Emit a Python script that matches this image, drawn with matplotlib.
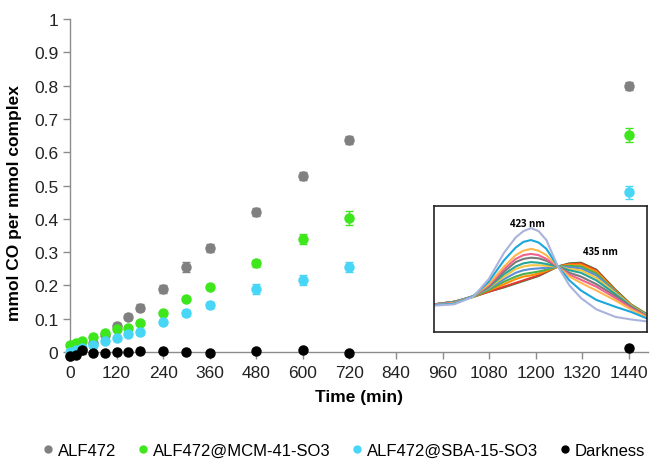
import matplotlib
matplotlib.use('Agg')
import matplotlib.pyplot as plt
from matplotlib.lines import Line2D
import numpy as np

plt.rcParams['font.family'] = ['Liberation Sans', 'DejaVu Sans']

# time points (min)
time = [0, 15, 30, 60, 90, 120, 150, 180, 240, 300, 360, 480, 600, 720, 1440]

# mmol CO per mmol complex
alf472 = [-0.012, -0.005, 0.005, 0.028, 0.05, 0.078, 0.106, 0.133, 0.19, 0.254, 0.312, 0.421, 0.528, 0.636, 0.80]
alf472_err = [0.004, 0.004, 0.004, 0.005, 0.006, 0.008, 0.008, 0.01, 0.012, 0.015, 0.012, 0.012, 0.012, 0.012, 0.012]
mcm = [0.022, 0.026, 0.032, 0.045, 0.057, 0.069, 0.071, 0.087, 0.118, 0.158, 0.195, 0.266, 0.338, 0.402, 0.652]
mcm_err = [0.004, 0.004, 0.004, 0.004, 0.004, 0.005, 0.005, 0.005, 0.005, 0.005, 0.005, 0.01, 0.015, 0.02, 0.02]
sba = [0.0, 0.005, 0.012, 0.022, 0.034, 0.043, 0.053, 0.06, 0.089, 0.117, 0.141, 0.188, 0.216, 0.254, 0.48]
sba_err = [0.004, 0.004, 0.004, 0.004, 0.004, 0.005, 0.006, 0.01, 0.006, 0.008, 0.01, 0.015, 0.015, 0.015, 0.02]
dark = [-0.011, -0.008, 0.005, -0.004, -0.004, 0.0, 0.0, 0.003, 0.004, 0.001, -0.002, 0.003, 0.005, -0.002, 0.013]
dark_err = [0.003, 0.003, 0.012, 0.002, 0.002, 0.002, 0.002, 0.002, 0.002, 0.002, 0.002, 0.002, 0.002, 0.002, 0.002]

# inset spectra (relative absorbance)
wl = [398, 403, 408, 412, 416, 419, 421, 423, 425, 427, 430, 433, 436, 440, 445, 449, 453]
spectra = {
    '#a9b3dc': [0.21, 0.22, 0.28, 0.42, 0.63, 0.75, 0.80, 0.825, 0.80, 0.73, 0.52, 0.37, 0.27, 0.18, 0.12, 0.10, 0.085],
    '#1aa7d9': [0.215, 0.225, 0.285, 0.40, 0.57, 0.67, 0.715, 0.73, 0.71, 0.66, 0.52, 0.41, 0.33, 0.255, 0.20, 0.16, 0.11],
    '#ffb74d': [0.215, 0.23, 0.285, 0.38, 0.52, 0.61, 0.645, 0.66, 0.645, 0.61, 0.52, 0.44, 0.39, 0.33, 0.25, 0.18, 0.12],
    '#f0628f': [0.22, 0.23, 0.285, 0.37, 0.50, 0.58, 0.61, 0.62, 0.61, 0.58, 0.52, 0.455, 0.415, 0.36, 0.27, 0.19, 0.125],
    '#7a7a7a': [0.22, 0.235, 0.285, 0.36, 0.48, 0.555, 0.58, 0.59, 0.585, 0.565, 0.52, 0.47, 0.44, 0.38, 0.285, 0.20, 0.13],
    '#26a69a': [0.22, 0.235, 0.285, 0.355, 0.46, 0.52, 0.545, 0.555, 0.55, 0.54, 0.52, 0.49, 0.47, 0.41, 0.30, 0.205, 0.13],
    '#f4c542': [0.22, 0.235, 0.285, 0.35, 0.44, 0.50, 0.52, 0.53, 0.53, 0.525, 0.52, 0.50, 0.49, 0.43, 0.31, 0.21, 0.135],
    '#5b8fd6': [0.22, 0.24, 0.285, 0.345, 0.42, 0.47, 0.49, 0.50, 0.505, 0.51, 0.52, 0.515, 0.505, 0.45, 0.315, 0.21, 0.135],
    '#4caf50': [0.22, 0.24, 0.28, 0.335, 0.40, 0.44, 0.46, 0.47, 0.48, 0.495, 0.52, 0.525, 0.52, 0.465, 0.32, 0.21, 0.14],
    '#ff8f00': [0.22, 0.24, 0.28, 0.33, 0.38, 0.42, 0.44, 0.45, 0.465, 0.485, 0.52, 0.535, 0.535, 0.48, 0.325, 0.215, 0.14],
    '#e53935': [0.22, 0.24, 0.28, 0.32, 0.36, 0.39, 0.41, 0.43, 0.45, 0.48, 0.52, 0.54, 0.545, 0.49, 0.33, 0.215, 0.14],
    '#2e7d32': [0.22, 0.24, 0.28, 0.32, 0.355, 0.385, 0.405, 0.425, 0.445, 0.475, 0.52, 0.545, 0.55, 0.495, 0.335, 0.22, 0.145],
}

series = [
    ('ALF472', alf472, alf472_err, '#808080'),
    ('ALF472@MCM-41-SO3', mcm, mcm_err, '#3ee61c'),
    ('ALF472@SBA-15-SO3', sba, sba_err, '#48d6f7'),
    ('Darkness', dark, dark_err, '#000000'),
]

fig = plt.figure(figsize=(6.5, 4.6), dpi=100)
ax = fig.add_axes([0.1077, 0.2326, 0.8898, 0.7239])

for label, y, err, color in series:
    ax.errorbar(time, y, yerr=err, fmt='o', color=color, ecolor=color,
                markersize=6.5, capsize=3, elinewidth=1, capthick=1, clip_on=False, zorder=3)

ax.set_xlim(0, 1490)
ax.set_ylim(0, 1)
ax.set_xticks(np.arange(0, 1441, 120))
ax.set_yticks(np.arange(0, 1.01, 0.1))
ax.set_yticklabels(['0', '0.1', '0.2', '0.3', '0.4', '0.5', '0.6', '0.7', '0.8', '0.9', '1'])
for s in ['top', 'right']:
    ax.spines[s].set_visible(False)
for s in ['left', 'bottom']:
    ax.spines[s].set_color('#8c8c8c')
    ax.spines[s].set_linewidth(1)
ax.tick_params(axis='both', colors='#8c8c8c', length=5, width=1, labelsize=12.5, labelcolor='#222222')
ax.tick_params(axis='x', pad=4)
ax.set_xlabel('Time (min)', fontsize=12.5, fontweight='bold', labelpad=7)
ax.set_ylabel('mmol CO per mmol complex', fontsize=12.5, fontweight='bold')
ax.yaxis.set_label_coords(-0.083, 0.45)

# inset with the spectra
ins = fig.add_axes([0.668, 0.276, 0.328, 0.274])
for color, vals in list(spectra.items())[::-1]:
    ins.plot(wl, vals, color=color, lw=1.5)
ins.set_xlim(397.8, 453.3)
ins.set_ylim(0, 1)
ins.set_xticks([])
ins.set_yticks([])
for s in ins.spines.values():
    s.set_linewidth(1.2)
    s.set_color('#222222')
ins.text(422.1, 0.86, '423 nm', ha='center', va='center', fontsize=7, fontweight='bold',
         family=['Open Sans', 'DejaVu Sans'])
ins.text(441, 0.64, '435 nm', ha='center', va='center', fontsize=7, fontweight='bold',
         family=['Open Sans', 'DejaVu Sans'])

handles = [Line2D([], [], ls='none', marker='o', color=c, markersize=5) for _, _, _, c in series]
fig.legend(handles, [s[0] for s in series], loc='center', bbox_to_anchor=(0.527, 0.018),
           ncol=4, frameon=False, fontsize=12, handletextpad=0.15, columnspacing=1.15,
           handlelength=0.9, borderpad=0)

fig.savefig('out.png', dpi=100)
